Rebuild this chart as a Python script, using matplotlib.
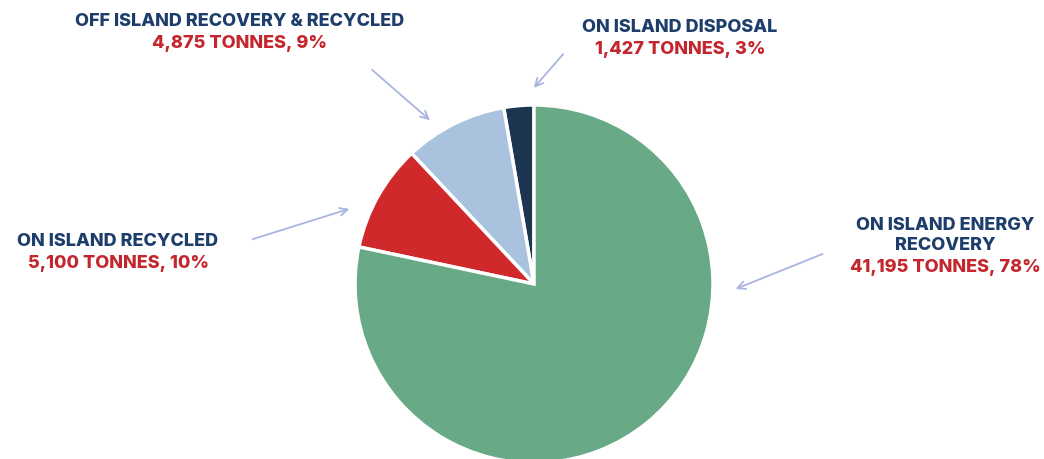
import matplotlib
matplotlib.use('Agg')
import matplotlib.pyplot as plt

# slices, counter-clockwise from 12 o'clock
categories = ["ON ISLAND DISPOSAL", "OFF ISLAND RECOVERY & RECYCLED",
              "ON ISLAND RECYCLED", "ON ISLAND ENERGY\nRECOVERY"]
tonnes = [1427, 4875, 5100, 41195]
percents = [3, 9, 10, 78]
colors = ["#1c3652", "#a9c2dd", "#d0292b", "#68a986"]

navy = "#1d3d6b"
red = "#c3272d"
arrow_col = "#a9b4e0"

W, H = 1044, 459
fig = plt.figure(figsize=(W / 100, H / 100), dpi=100)
ax = fig.add_axes([0, 0, 1, 1])

ax.pie(tonnes, colors=colors, startangle=90, counterclock=True,
       center=(534, H - 284), radius=179,
       wedgeprops=dict(edgecolor='white', linewidth=2.5))
ax.set_xlim(0, W)
ax.set_ylim(0, H)
ax.set_aspect('equal')
ax.axis('off')

font = ['Inter', 'DejaVu Sans']

# label positions (pixel coords of first line, y from top)
label_pos = [(680, 28), (240, 22), (118, 242), (945, 226)]
arrows = [((565, 52), (532, 90)), ((370, 68), (432, 122)),
          ((250, 240), (352, 208)), ((825, 253), (733, 290))]

for cat, t, p, (x, y) in zip(categories, tonnes, percents, label_pos):
    for line in cat.split("\n"):
        ax.text(x, H - y, line, ha='center', va='center', fontsize=13,
                fontweight='heavy', color=navy, family=font)
        y += 20
    ax.text(x, H - y - 2, f"{t:,} TONNES, {p}%", ha='center',
            va='center', fontsize=13, fontweight='heavy', color=red,
            family=font)

for (x0, y0), (x1, y1) in arrows:
    ax.annotate("", xy=(x1, H - y1), xytext=(x0, H - y0),
                arrowprops=dict(arrowstyle='->', color=arrow_col, lw=1.3,
                                mutation_scale=14))

fig.savefig("out.png", dpi=100, facecolor='white')
